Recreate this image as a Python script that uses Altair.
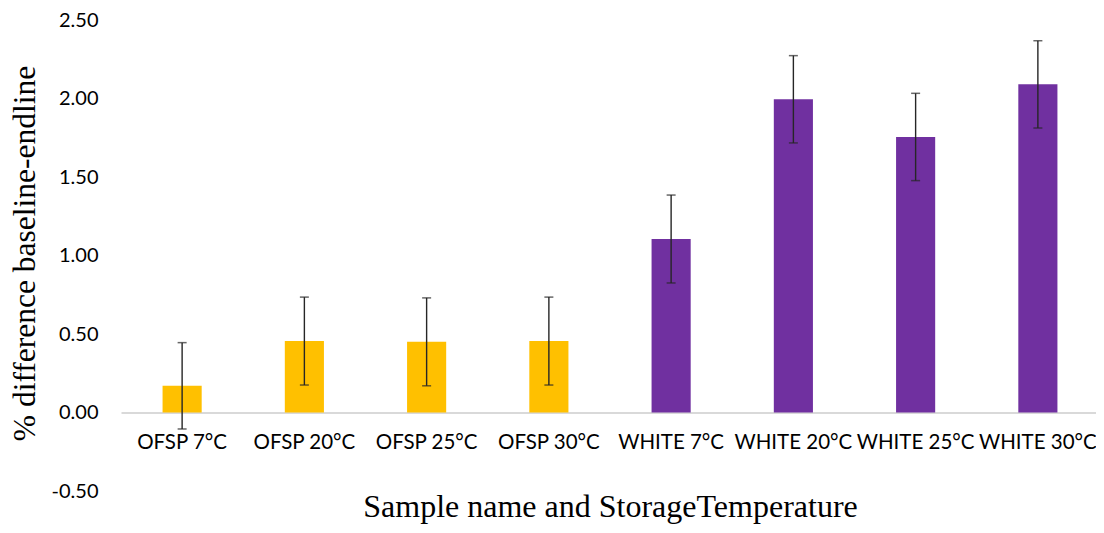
import altair as alt
import pandas as pd

categories = ["OFSP 7°C", "OFSP 20°C", "OFSP 25°C", "OFSP 30°C",
              "WHITE 7°C", "WHITE 20°C", "WHITE 25°C", "WHITE 30°C"]
groups = ["OFSP", "OFSP", "OFSP", "OFSP", "WHITE", "WHITE", "WHITE", "WHITE"]
means = [0.17, 0.455, 0.45, 0.455, 1.105, 1.995, 1.755, 2.09]
errors = [0.275, 0.28, 0.28, 0.28, 0.28, 0.278, 0.278, 0.278]
y_ticks = [-0.5, 0, 0.5, 1, 1.5, 2, 2.5]

df = pd.DataFrame({"cat": categories, "group": groups, "mean": means, "err": errors})
df["lo"] = df["mean"] - df["err"]
df["hi"] = df["mean"] + df["err"]

W = 978
H = 471
y_dom = [-0.5, 2.5]
zero_offset = -(H * (0 - y_dom[0]) / (y_dom[1] - y_dom[0]))

x_enc = alt.X(
    "cat:N", sort=categories,
    scale=alt.Scale(paddingInner=0.68, paddingOuter=0.34),
    axis=alt.Axis(
        title="Sample name and StorageTemperature",
        labelAngle=0, labelFont="Lato", labelFontSize=20.5, labelColor="#000000",
        labelPadding=20, ticks=False, domainColor="#d9d9d9", domainWidth=2,
        offset=zero_offset,
        titleFont="Liberation Serif", titleFontSize=32, titleFontWeight="normal",
        titleColor="#000000", titleBaseline="alphabetic", titleY=104,
    ),
)
y_scale = alt.Scale(domain=y_dom, nice=False, zero=False)

bars = alt.Chart(df).mark_bar().encode(
    x=x_enc,
    y=alt.Y("mean:Q", scale=y_scale, axis=alt.Axis(
        title="% difference baseline-endline", values=y_ticks,
        labelExpr="datum.value < 0 ? '-' + format(-datum.value, '.2f') : format(datum.value, '.2f')",
        grid=False, domain=False, ticks=False,
        labelFont="Lato", labelFontSize=20, labelColor="#000000", labelPadding=23,
        titleFont="Liberation Serif", titleFontSize=31.5, titleFontWeight="normal",
        titleColor="#000000", titleX=-96, titleY=233, titleAngle=-90,
        titleAlign="center", titleBaseline="middle",
    )),
    color=alt.Color("group:N", scale=alt.Scale(domain=["OFSP", "WHITE"],
                                                range=["#FFC000", "#7030A0"]), legend=None),
)

rules = alt.Chart(df).mark_rule(color="#262626", strokeWidth=1.4).encode(
    x=alt.X("cat:N", sort=categories),
    y=alt.Y("lo:Q", scale=y_scale),
    y2="hi:Q",
)
caps_lo = alt.Chart(df).mark_tick(color="#262626", size=9, thickness=1.5).encode(
    x=alt.X("cat:N", sort=categories), y=alt.Y("lo:Q", scale=y_scale))
caps_hi = alt.Chart(df).mark_tick(color="#262626", size=9, thickness=1.5).encode(
    x=alt.X("cat:N", sort=categories), y=alt.Y("hi:Q", scale=y_scale))

chart = alt.layer(bars, rules, caps_lo, caps_hi).properties(
    width=W, height=H,
    background="white",
    autosize=alt.AutoSizeParams(type="none"),
    padding={"left": 113, "top": 12, "right": -3, "bottom": 34},
).configure_view(stroke=None)

chart.save("out.html", embed_options={"renderer": "svg", "actions": False})
